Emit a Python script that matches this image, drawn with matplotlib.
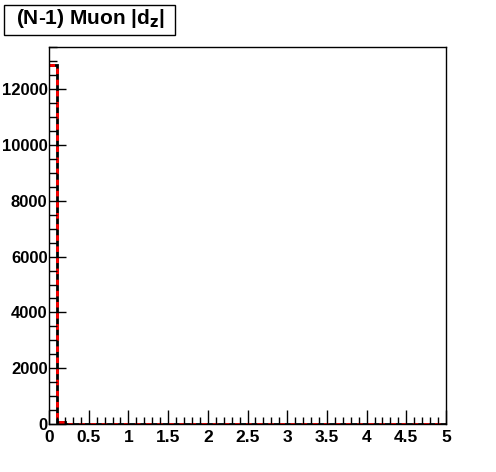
import numpy as np
import matplotlib.pyplot as plt
from matplotlib.patches import Rectangle
from matplotlib.ticker import MultipleLocator

plt.rcParams['font.family'] = ['Liberation Sans', 'DejaVu Sans']

# |dz| histogram, 50 bins of 0.1 from 0 to 5
bin_lo = 0.0
bin_hi = 5.0
n_bins = 50
counts = [12870, 60, 8, 4, 3, 2, 2, 1, 1, 1,
          1, 0, 1, 0, 0, 1, 0, 0, 0, 0,
          0, 0, 0, 0, 0, 0, 0, 0, 0, 0,
          0, 0, 0, 0, 0, 0, 0, 0, 0, 0,
          0, 0, 0, 0, 0, 0, 0, 0, 0, 0]
title = r'(N-1) Muon |d$_{\mathbf{z}}$|'


def main():
    edges = np.linspace(bin_lo, bin_hi, n_bins + 1)
    vals = np.array(counts, dtype=float)

    fig = plt.figure(figsize=(4.96, 4.72), dpi=100)
    ax = fig.add_axes([49 / 496, 48 / 472, 397 / 496, 377 / 472])

    ax.stairs(vals, edges, color='black', linewidth=2, baseline=None)
    ax.stairs(vals, edges, color='red', linewidth=2, linestyle=(0, (2, 2)), baseline=None)

    ax.set_xlim(bin_lo, bin_hi)
    ax.set_ylim(0, vals.max() * 1.05)

    ax.xaxis.set_major_locator(MultipleLocator(0.5))
    ax.xaxis.set_minor_locator(MultipleLocator(0.1))
    ax.yaxis.set_major_locator(MultipleLocator(2000))
    ax.yaxis.set_minor_locator(MultipleLocator(500))
    ax.xaxis.set_major_formatter(plt.FuncFormatter(lambda v, p: f'{v:g}'))

    ax.tick_params(which='both', direction='in', width=1)
    ax.tick_params(axis='x', which='major', length=10, pad=4, labelsize=12.5)
    ax.tick_params(axis='x', which='minor', length=5)
    ax.tick_params(axis='y', which='major', length=12, pad=1, labelsize=12)
    ax.tick_params(axis='y', which='minor', length=6)
    for lab in ax.get_xticklabels() + ax.get_yticklabels():
        lab.set_fontweight('bold')
    for s in ax.spines.values():
        s.set_linewidth(1)

    # title box
    fig.patches.append(Rectangle((4 / 496, 1 - 35 / 472), 171 / 496, 30 / 472,
                                 transform=fig.transFigure, facecolor='white',
                                 edgecolor='black', linewidth=1))
    fig.text(90 / 496, 1 - 19 / 472, title, fontsize=15, fontweight='bold',
             ha='center', va='center')

    fig.savefig('out.png', dpi=100)


if __name__ == '__main__':
    main()
